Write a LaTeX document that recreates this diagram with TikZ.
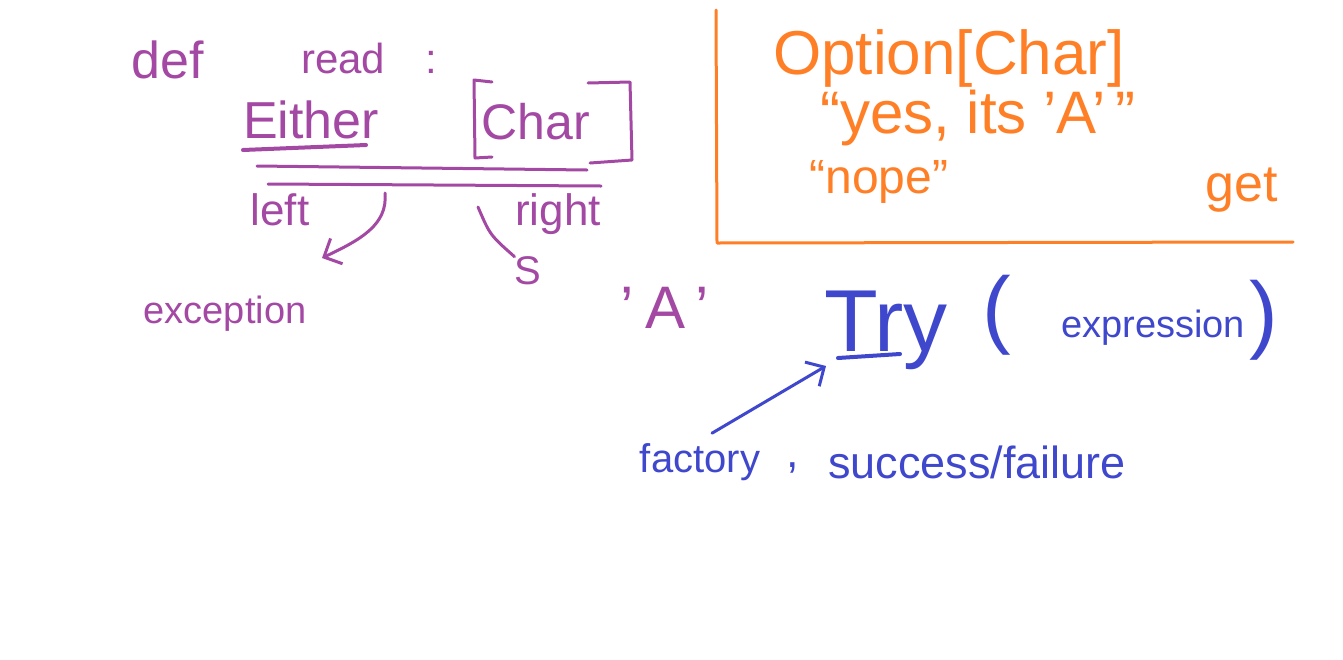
\documentclass[tikz,border=0pt]{standalone}
\usepackage{fontspec}
\setmainfont{Liberation Sans}
\usetikzlibrary{arrows.meta, positioning}
\definecolor{purple_pen}{RGB}{163, 73, 164}
\definecolor{orange_pen}{RGB}{255, 127, 39}
\definecolor{blue_pen}{RGB}{63, 72, 204}

\begin{document}
\begin{tikzpicture}[
    x=1pt, y=-1pt,
    every node/.style={inner sep=0pt},
    hand/.style={font=\fontsize{#1}{#1}\selectfont},
    ink/.style={line width=3pt, line cap=round, line join=round},
    arr/.style={ink, -{Straight Barb[length=14pt, width=28pt]}},
]
\useasboundingbox (0,0) rectangle (1343,659);

% purple: Either
\node[hand=52, purple_pen] (def)    at (168,60)  {def};
\node[hand=42, purple_pen] (read)   at (369,58)  {read\hspace{40pt}:};
\node[hand=52, purple_pen] (either) at (311,120) {Either};
\node[hand=50, purple_pen] (char)   at (536,122) {Char};
\node[hand=44, purple_pen] (left)   at (280,210) {left};
\node[hand=44, purple_pen] (right)  at (558,214) {right};
\node[hand=38, purple_pen] (exc)    at (225,314) {exception};
\node[hand=40, purple_pen] (s)      at (528,271) {S};
\node[hand=60, purple_pen] (aval)   at (665,308) {'\hspace{12pt}A\hspace{10pt}'};

\draw[ink, purple_pen, line width=4pt] (243,150) -- (366,145);
\draw[ink, purple_pen] (492,82) -- (474,80) -- (475,158) -- (492,157);
\draw[ink, purple_pen] (588,83) -- (630,82) -- (632,160) -- (590,163);
\draw[ink, purple_pen] (257,166) -- (587,170);
\draw[ink, purple_pen] (268,184) -- (601,186);

\coordinate (lhook) at (385,193);
\coordinate (ltip)  at (322,258);
\coordinate (rhook) at (478,207);
\draw[arr, purple_pen] (lhook) .. controls (388,225) and (360,240) .. (ltip);
\draw[ink, purple_pen] (rhook) .. controls (490,235) .. (s.north west);

% orange: Option
\node[hand=62, orange_pen] (opt)  at (949,58)  {Option[Char]};
\node[hand=60, orange_pen] (yes)  at (978,118) {``yes, its 'A'\,''};
\node[hand=48, orange_pen] (nope) at (879,182) {``nope''};
\node[hand=52, orange_pen] (get)  at (1242,190) {get};
\draw[ink, orange_pen] (716,10) -- (717,243) -- (1293,242);

% blue: Try
\node[hand=88, blue_pen] (try)   at (886,330)  {Try};
\node[hand=86, blue_pen] (lpar)  at (997,315)  {(};
\node[hand=38, blue_pen] (expr)  at (1153,328) {expression};
\node[hand=86, blue_pen] (rpar)  at (1264,320) {)};
\node[hand=40, blue_pen] (fac)   at (700,462)  {factory};
\node[hand=45, blue_pen] (comma) at (793,468)  {,};
\node[hand=45, blue_pen] (res)   at (977,462)  {success/failure};

\draw[ink, blue_pen, line width=4pt] (838,358) -- (900,354);
\coordinate (ttip) at (826,366);
\draw[arr, blue_pen] ([xshift=12pt, yshift=10pt]fac.north) -- (ttip);
\end{tikzpicture}
\end{document}
